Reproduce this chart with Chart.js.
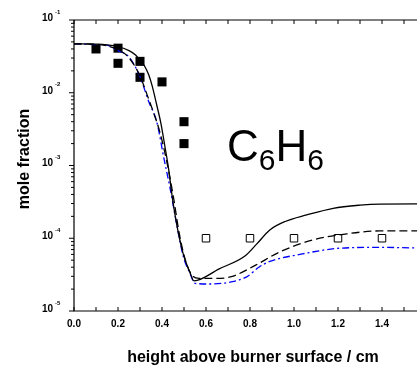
<!DOCTYPE html>
<html>
<head>
<meta charset="utf-8">
<script src="https://cdn.jsdelivr.net/npm/chart.js@4.4.1/dist/chart.umd.min.js"></script>
<style>
  html, body { margin: 0; padding: 0; background: #fff; overflow: hidden; }
  #wrap { width: 440px; height: 366px; }
</style>
</head>
<body>
<div id="wrap"><canvas id="graphique"></canvas></div>
<script>
// données
const hauteurMesure = [0.1, 0.2, 0.2, 0.3, 0.3, 0.4, 0.5, 0.5];
const c6h6Mesure = [0.040, 0.041, 0.0254, 0.027, 0.0163, 0.0141, 0.0040, 0.0020];

const hauteurMesure2 = [0.6, 0.8, 1.0, 1.2, 1.4];
const c6h6Mesure2 = [1.0e-4, 1.0e-4, 1.0e-4, 1.0e-4, 1.0e-4];

// modele 1 (trait plein)
const hauteurModele1 = [0, 0.1, 0.15, 0.2, 0.25, 0.28, 0.3, 0.32, 0.34, 0.355, 0.375, 0.395, 0.415, 0.43, 0.444, 0.466, 0.497, 0.527, 0.545, 0.66, 0.777, 0.83, 0.89, 0.96, 1.058, 1.178, 1.3, 1.39, 1.6];
const c6h6Modele1 = [0.047, 0.0465, 0.0455, 0.043, 0.038, 0.033, 0.028, 0.0235, 0.0175, 0.0125, 0.007, 0.0038, 0.0017, 0.0009, 0.00042, 0.00016, 6.0e-5, 3.4e-5, 2.6e-5, 3.8e-5, 5.7e-5, 8.3e-5, 1.3e-4, 1.7e-4, 2.09e-4, 2.58e-4, 2.85e-4, 2.95e-4, 2.97e-4];

// modele 2 (tirets)
const hauteurModele2 = [0, 0.1, 0.15, 0.2, 0.247, 0.3, 0.33, 0.36, 0.39, 0.42, 0.45, 0.48, 0.51, 0.54, 0.57, 0.65, 0.72, 0.815, 0.936, 1.088, 1.24, 1.39, 1.6];
const c6h6Modele2 = [0.047, 0.0465, 0.044, 0.039, 0.031, 0.017, 0.0098, 0.0055, 0.0029, 0.0012, 0.0004, 0.00011, 4.6e-5, 3.0e-5, 2.8e-5, 2.8e-5, 3.0e-5, 4.1e-5, 6.5e-5, 9.5e-5, 1.15e-4, 1.26e-4, 1.26e-4];

// modele 3 (bleu, tiret-point)
const hauteurModele3 = [0, 0.1, 0.15, 0.2, 0.25, 0.3, 0.34, 0.376, 0.41, 0.436, 0.466, 0.497, 0.527, 0.55, 0.62, 0.71, 0.785, 0.84, 0.89, 1.027, 1.21, 1.39, 1.6];
const c6h6Modele3 = [0.047, 0.046, 0.045, 0.038, 0.031, 0.0166, 0.0075, 0.004, 0.0012, 0.0005, 0.00016, 5.6e-5, 3.3e-5, 2.4e-5, 2.35e-5, 2.5e-5, 2.95e-5, 4.0e-5, 4.8e-5, 6.0e-5, 7.3e-5, 7.5e-5, 7.3e-5];

const xTicks = [0.0, 0.2, 0.4, 0.6, 0.8, 1.0, 1.2, 1.4, 1.6];
const xTickLabels = ['0.0', '0.2', '0.4', '0.6', '0.8', '1.0', '1.2', '1.4', '1.6'];
const yDecades = [-1, -2, -3, -4, -5];

const police = '"Liberation Sans", Arial, sans-serif';

function paires(xs, ys) {
    return xs.map((x, i) => ({ x: x, y: ys[i] }));
}

// axes, textes et graduations dessinés à la main
const axesPlugin = {
    id: 'axesOrigin',
    afterDraw(chart) {
        const ctx = chart.ctx;
        const area = chart.chartArea;
        const sx = chart.scales.x;
        const sy = chart.scales.y;
        ctx.save();
        ctx.strokeStyle = '#000';
        ctx.fillStyle = '#000';
        ctx.lineWidth = 1.2;

        // cadre
        ctx.beginPath();
        ctx.moveTo(area.left, area.top);
        ctx.lineTo(area.left, area.bottom);
        ctx.lineTo(area.right, area.bottom);
        ctx.moveTo(area.left, area.top);
        ctx.lineTo(area.right, area.top);
        ctx.stroke();

        // graduations x (toutes les 0.1, vers l'intérieur)
        ctx.lineWidth = 1;
        ctx.beginPath();
        for (let i = 0; i <= 16; i++) {
            const px = sx.getPixelForValue(i / 10);
            ctx.moveTo(px, area.bottom);
            ctx.lineTo(px, area.bottom - 4);
            ctx.moveTo(px, area.top);
            ctx.lineTo(px, area.top + 4);
        }
        // graduations y (log)
        yDecades.forEach(e => {
            const py = sy.getPixelForValue(Math.pow(10, e));
            ctx.moveTo(area.left, py);
            ctx.lineTo(area.left - 5, py);
            if (e > -5) {
                for (let m = 2; m <= 9; m++) {
                    const pm = sy.getPixelForValue(m * Math.pow(10, e - 1));
                    ctx.moveTo(area.left, pm);
                    ctx.lineTo(area.left - 3, pm);
                }
            }
        });
        ctx.stroke();

        // labels x
        ctx.font = 'bold 10px ' + police;
        ctx.textAlign = 'center';
        ctx.textBaseline = 'middle';
        xTicks.forEach((v, i) => {
            ctx.fillText(xTickLabels[i], sx.getPixelForValue(v), area.bottom + 13);
        });

        // labels y : 10 avec exposant
        yDecades.forEach(e => {
            const py = sy.getPixelForValue(Math.pow(10, e));
            ctx.font = 'bold 10px ' + police;
            ctx.textAlign = 'right';
            ctx.textBaseline = 'middle';
            ctx.fillText('10', 53, py - 2);
            ctx.font = 'bold 6px ' + police;
            ctx.textAlign = 'left';
            ctx.fillText(String(e), 55, py - 8);
        });

        // titres des axes
        ctx.font = 'bold 16px ' + police;
        ctx.textAlign = 'center';
        ctx.textBaseline = 'alphabetic';
        ctx.fillText('height above burner surface / cm', 253, 362);

        ctx.save();
        ctx.translate(29, 159);
        ctx.rotate(-Math.PI / 2);
        ctx.fillText('mole fraction', 0, 0);
        ctx.restore();

        // nom de l'espèce
        ctx.textAlign = 'left';
        ctx.font = '44px ' + police;
        let x = 227;
        ctx.fillText('C', x, 161);
        x += ctx.measureText('C').width;
        ctx.font = '30px ' + police;
        ctx.fillText('6', x, 170);
        x += ctx.measureText('6').width;
        ctx.font = '44px ' + police;
        ctx.fillText('H', x, 161);
        x += ctx.measureText('H').width;
        ctx.font = '30px ' + police;
        ctx.fillText('6', x, 170);

        ctx.restore();
    }
};

const graph = document.getElementById('graphique');

new Chart(graph, {
    type: 'scatter',
    data: {
        datasets: [
            {
                data: paires(hauteurModele1, c6h6Modele1),
                showLine: true,
                borderColor: '#000000',
                borderWidth: 1.3,
                pointRadius: 0,
                cubicInterpolationMode: 'monotone',
            },
            {
                data: paires(hauteurModele2, c6h6Modele2),
                showLine: true,
                borderColor: '#000000',
                borderWidth: 1.3,
                borderDash: [8, 4],
                pointRadius: 0,
                cubicInterpolationMode: 'monotone',
            },
            {
                data: paires(hauteurModele3, c6h6Modele3),
                showLine: true,
                borderColor: '#0000ff',
                borderWidth: 1.3,
                borderDash: [7, 3, 2, 3],
                pointRadius: 0,
                cubicInterpolationMode: 'monotone',
            },
            {
                data: paires(hauteurMesure, c6h6Mesure),
                showLine: false,
                pointStyle: 'rect',
                pointRadius: 6.4,
                backgroundColor: '#000000',
                borderColor: '#000000',
                borderWidth: 0,
            },
            {
                data: paires(hauteurMesure2, c6h6Mesure2),
                showLine: false,
                pointStyle: 'rect',
                pointRadius: 5.3,
                backgroundColor: '#ffffff',
                borderColor: '#000000',
                borderWidth: 1,
            },
        ]
    },
    options: {
        responsive: true,
        maintainAspectRatio: false,
        animation: false,
        layout: {
            padding: { left: 74, top: 20, right: 14, bottom: 55 }
        },
        plugins: {
            legend: { display: false },
            tooltip: { enabled: false },
        },
        scales: {
            x: {
                type: 'linear',
                min: 0,
                max: 1.6,
                display: false,
            },
            y: {
                type: 'logarithmic',
                min: 1e-5,
                max: 1e-1,
                display: false,
            }
        }
    },
    plugins: [axesPlugin]
});
</script>
</body>
</html>
